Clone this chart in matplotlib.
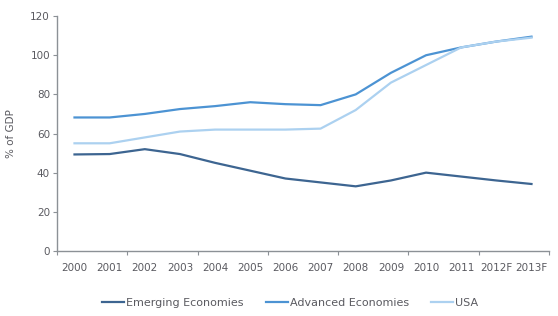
import numpy as np
import matplotlib
matplotlib.use("Agg")
import matplotlib.pyplot as plt

# ─── Data ────────────────────────────────────────────────────────────────────

years = ["2000", "2001", "2002", "2003", "2004", "2005", "2006",
         "2007", "2008", "2009", "2010", "2011", "2012F", "2013F"]
emerging = [49.3, 49.5, 52, 49.5, 45, 41, 37, 35, 33, 36, 40, 38, 36, 34.2]
advanced = [68.2, 68.2, 70, 72.5, 74, 76, 75, 74.5, 80, 91, 100, 104, 107, 109.5]
usa = [55, 55, 58, 61, 62, 62, 62, 62.5, 72, 86, 95, 104, 107, 109]

yticks = [0, 20, 40, 60, 80, 100, 120]

# ─── Style ───────────────────────────────────────────────────────────────────

C_EMERG = "#3d6591"
C_ADV = "#4c93d3"
C_USA = "#acd1f0"
C_AXIS = "#8c9196"
C_TEXT = "#5a5a60"
FS = 7.5

plt.rcParams["font.family"] = ["DejaVu Sans"]

fig = plt.figure(figsize=(5.58, 3.16), dpi=100)
ax = fig.add_axes([0.102, 0.206, 0.882, 0.743])

x = np.arange(len(years))
ax.plot(x, emerging, color=C_EMERG, linewidth=1.6, label="Emerging Economies")
ax.plot(x, advanced, color=C_ADV, linewidth=1.6, label="Advanced Economies")
ax.plot(x, usa, color=C_USA, linewidth=1.6, label="USA")

ax.set_xlim(-0.5, len(years) - 0.5)
ax.set_ylim(0, 120)

# tick marks at category boundaries (every two), labels at centres
ax.set_xticks(np.arange(-0.5, len(years), 2.0))
ax.set_xticklabels([])
ax.set_xticks(x, minor=True)
ax.set_xticklabels(years, minor=True)
ax.tick_params(axis="x", which="major", direction="out", length=3,
               color=C_AXIS, width=0.8)
ax.tick_params(axis="x", which="minor", length=0, pad=9,
               labelsize=FS, labelcolor=C_TEXT)

ax.set_yticks(yticks)
ax.tick_params(axis="y", direction="out", length=3, color=C_AXIS,
               width=0.8, labelsize=FS, labelcolor=C_TEXT, pad=2)

for side in ["top", "right"]:
    ax.spines[side].set_visible(False)
for side in ["left", "bottom"]:
    ax.spines[side].set_color(C_AXIS)
    ax.spines[side].set_linewidth(1.0)

ax.set_ylabel("% of GDP", fontsize=FS, color=C_TEXT, labelpad=10)

leg = fig.legend(loc="center", bbox_to_anchor=(0.52, 0.042), ncol=3,
                 frameon=False, fontsize=8, handlelength=2.0,
                 handletextpad=0.15, columnspacing=2.0)
for t in leg.get_texts():
    t.set_color(C_TEXT)

fig.savefig("out.png", dpi=100, facecolor="white")
